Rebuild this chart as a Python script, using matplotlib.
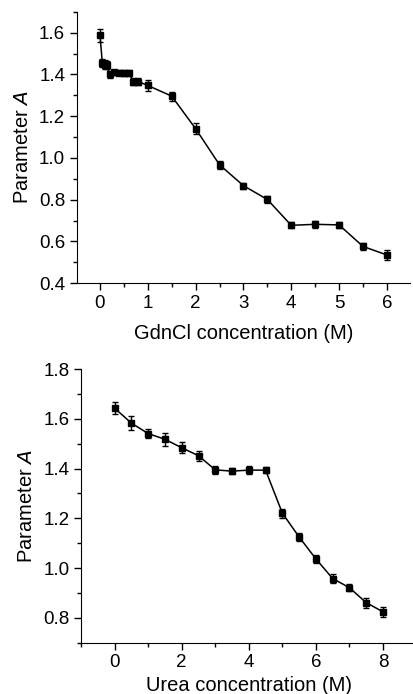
import matplotlib
matplotlib.use("Agg")
import matplotlib.pyplot as plt
from matplotlib.ticker import MultipleLocator

# GdnCl panel
gdn_conc = [0, 0.05, 0.1, 0.15, 0.2, 0.3, 0.4, 0.5, 0.6, 0.7, 0.8, 1.0,
            1.5, 2.0, 2.5, 3.0, 3.5, 4.0, 4.5, 5.0, 5.5, 6.0]
gdn_a = [1.587, 1.455, 1.447, 1.444, 1.400, 1.411, 1.408, 1.407, 1.407, 1.366, 1.366, 1.347,
         1.296, 1.140, 0.967, 0.867, 0.801, 0.677, 0.682, 0.679, 0.576, 0.535]
gdn_err = [0.030, 0.020, 0.020, 0.020, 0.018, 0.012, 0.012, 0.015, 0.015, 0.015, 0.015, 0.028,
           0.022, 0.025, 0.020, 0.015, 0.015, 0.015, 0.018, 0.013, 0.018, 0.022]

# Urea panel
urea_conc = [0, 0.5, 1.0, 1.5, 2.0, 2.5, 3.0, 3.5, 4.0, 4.5, 5.0, 5.5, 6.0, 6.5, 7.0, 7.5, 8.0]
urea_a = [1.643, 1.583, 1.541, 1.518, 1.484, 1.452, 1.395, 1.390, 1.394, 1.394,
          1.221, 1.125, 1.037, 0.958, 0.921, 0.861, 0.824]
urea_err = [0.025, 0.028, 0.018, 0.025, 0.022, 0.020, 0.015, 0.012, 0.015, 0.013,
            0.018, 0.018, 0.015, 0.018, 0.015, 0.020, 0.020]

plt.rcParams["font.family"] = ["Liberation Sans", "DejaVu Sans"]

fig = plt.figure(figsize=(4.14, 6.94), dpi=100)
ax1 = fig.add_axes([0.186, 0.592, 0.804, 0.391])
ax2 = fig.add_axes([0.196, 0.074, 0.81, 0.394])


def style_axis(ax, size):
    for side in ["top", "right"]:
        ax.spines[side].set_visible(False)
    ax.tick_params(which="major", direction="out", length=5, width=1, labelsize=size)
    ax.tick_params(which="minor", direction="out", length=3, width=1)


def draw(ax, xs, ys, errs):
    ax.errorbar(xs, ys, yerr=errs, color="black", lw=1.1, marker="s", markersize=4.5,
                ecolor="black", elinewidth=1, capsize=2.5, capthick=1)


draw(ax1, gdn_conc, gdn_a, gdn_err)
ax1.set_xlim(-0.48, 6.48)
ax1.set_ylim(0.4, 1.7)
ax1.xaxis.set_major_locator(MultipleLocator(1))
ax1.xaxis.set_minor_locator(MultipleLocator(0.5))
ax1.yaxis.set_major_locator(MultipleLocator(0.2))
ax1.yaxis.set_minor_locator(MultipleLocator(0.1))
ax1.yaxis.set_major_formatter(plt.FormatStrFormatter("%.1f"))
style_axis(ax1, 13.5)
ax1.set_xlabel("GdnCl concentration (M)", fontsize=14.5, labelpad=9)
ax1.set_ylabel("Parameter $\\it{A}$", fontsize=14.5, labelpad=5)

draw(ax2, urea_conc, urea_a, urea_err)
ax2.set_xlim(-1.0, 9.0)
ax2.set_ylim(0.7, 1.8)
ax2.xaxis.set_major_locator(MultipleLocator(2))
ax2.xaxis.set_minor_locator(MultipleLocator(1))
ax2.yaxis.set_major_locator(MultipleLocator(0.2))
ax2.yaxis.set_minor_locator(MultipleLocator(0.1))
ax2.yaxis.set_major_formatter(plt.FormatStrFormatter("%.1f"))
style_axis(ax2, 13.5)
ax2.set_xlabel("Urea concentration (M)", fontsize=14.5, labelpad=3)
ax2.set_ylabel("Parameter $\\it{A}$", fontsize=14.5, labelpad=5)

fig.savefig("out.png", dpi=100)
